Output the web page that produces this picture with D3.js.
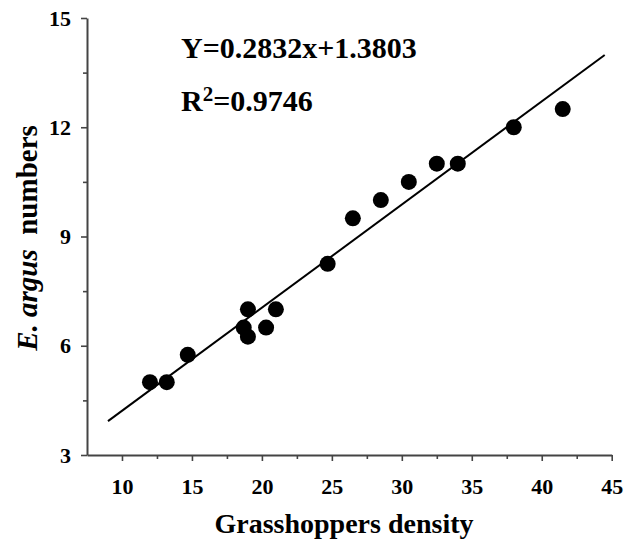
<!DOCTYPE html>
<html>
<head>
<meta charset="utf-8">
<script src="https://cdn.jsdelivr.net/npm/d3@7"></script>
<style>
  body { margin: 0; background: #fff; }
  text { font-family: "Liberation Serif", "Times New Roman", serif; font-weight: bold; }
</style>
</head>
<body>
<div id="chart"></div>
<script>
// data
var density = [12, 13.2, 14.7, 18.7, 19, 19, 20.3, 21, 24.7, 26.5, 28.5, 30.5, 32.5, 34, 38, 41.5];
var numbers = [5, 5, 5.75, 6.5, 7, 6.25, 6.5, 7, 8.25, 9.5, 10, 10.5, 11, 11, 12, 12.5];
var xTicks = [10, 15, 20, 25, 30, 35, 40, 45];
var xMinor = [12.5, 17.5, 22.5, 27.5, 32.5, 37.5, 42.5];
var yTicks = [3, 6, 9, 12, 15];
var yMinor = [4.5, 7.5, 10.5, 13.5];
var fitSlope = 0.2832, fitIntercept = 1.3803;
var fitRange = [9, 44.5];

var width = 637, height = 542;

var svg = d3.select("#chart")
  .append("svg")
    .attr("width", width)
    .attr("height", height);

var x = d3.scaleLinear().domain([7.5, 45]).range([87, 611.7]);
var y = d3.scaleLinear().domain([3, 15]).range([455, 18]);

// minor ticks
svg.append("g")
  .attr("transform", "translate(0,455)")
  .call(d3.axisBottom(x).tickValues(xMinor).tickSize(4).tickFormat(""))
  .call(function(g) { g.select(".domain").remove(); });
svg.append("g")
  .attr("transform", "translate(87,0)")
  .call(d3.axisLeft(y).tickValues(yMinor).tickSize(4).tickFormat(""))
  .call(function(g) { g.select(".domain").remove(); });

// X axis
svg.append("g")
  .attr("transform", "translate(0,455)")
  .call(d3.axisBottom(x).tickValues(xTicks).tickSizeInner(6).tickSizeOuter(0).tickPadding(17))
  .call(function(g) { g.selectAll("text").attr("font-size", 22).attr("fill", "#000"); });

// Y axis
svg.append("g")
  .attr("transform", "translate(87,0)")
  .call(d3.axisLeft(y).tickValues(yTicks).tickSizeInner(6).tickSizeOuter(0).tickPadding(10))
  .call(function(g) { g.selectAll("text").attr("font-size", 22).attr("fill", "#000"); });

svg.selectAll(".domain").attr("stroke", "#444").attr("stroke-width", 2);
svg.selectAll(".tick line").attr("stroke", "#444").attr("stroke-width", 1.6);

// fit line
svg.append("line")
  .attr("x1", x(fitRange[0]))
  .attr("y1", y(fitSlope * fitRange[0] + fitIntercept))
  .attr("x2", x(fitRange[1]))
  .attr("y2", y(fitSlope * fitRange[1] + fitIntercept))
  .attr("stroke", "#000")
  .attr("stroke-width", 2);

// points
svg.selectAll("circle.pt")
  .data(density)
  .enter()
  .append("circle")
    .attr("class", "pt")
    .attr("cx", function(d) { return x(d); })
    .attr("cy", function(d, i) { return y(numbers[i]); })
    .attr("r", 8)
    .attr("fill", "#000");

// equation
svg.append("text")
  .attr("x", 181)
  .attr("y", 58)
  .attr("font-size", 30)
  .text("Y=" + fitSlope + "x+" + fitIntercept);

var r2 = svg.append("text")
  .attr("x", 181)
  .attr("y", 111)
  .attr("font-size", 30);
r2.append("tspan").text("R");
r2.append("tspan").attr("font-size", 21).attr("dy", -10).text("2");
r2.append("tspan").attr("dy", 10).text("=0.9746");

// axis titles
svg.append("text")
  .attr("x", 344)
  .attr("y", 533)
  .attr("text-anchor", "middle")
  .attr("font-size", 28)
  .text("Grasshoppers density");

var yl = svg.append("text")
  .attr("transform", "translate(37,238) rotate(-90)")
  .attr("text-anchor", "middle")
  .attr("font-size", 29);
yl.append("tspan").attr("font-style", "italic").text("E. argus");
yl.append("tspan").attr("xml:space", "preserve").text("  numbers");
</script>
</body>
</html>
